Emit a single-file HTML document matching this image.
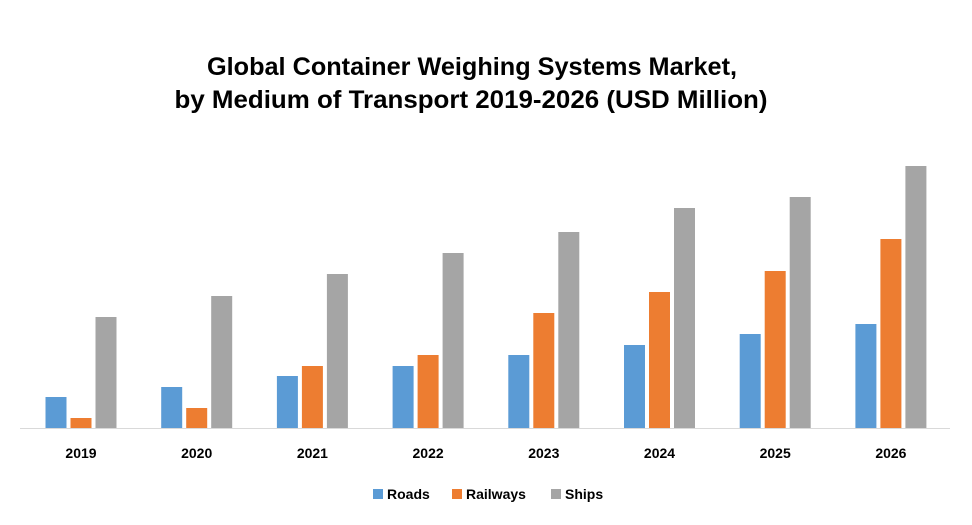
<!DOCTYPE html>
<html><head><meta charset="utf-8"><style>
body{margin:0;background:#fff;}
svg{display:block;font-family:"Liberation Sans",Arial,sans-serif;}
</style></head><body>
<svg id="chart" width="972" height="525" viewBox="0 0 972 525">
<text x="472" y="75" text-anchor="middle" font-size="25" font-weight="bold" fill="#000" textLength="530" lengthAdjust="spacingAndGlyphs">Global Container Weighing Systems Market,</text>
<text x="471" y="108" text-anchor="middle" font-size="25" font-weight="bold" fill="#000" textLength="593" lengthAdjust="spacingAndGlyphs">by Medium of Transport 2019-2026 (USD Million)</text>
<line x1="20" y1="428.5" x2="950" y2="428.5" stroke="#d9d9d9" stroke-width="1"/>
<g id="bars"></g>
<g id="xlabels"></g>
<g>
<g><rect x="373" y="489" width="10" height="10" fill="#5b9bd5"/><text x="387" y="499" font-size="14" font-weight="bold">Roads</text></g>
<g><rect x="452" y="489" width="10" height="10" fill="#ed7d31"/><text x="466" y="499" font-size="14" font-weight="bold">Railways</text></g>
<g><rect x="551" y="489" width="10" height="10" fill="#a5a5a5"/><text x="565" y="499" font-size="14" font-weight="bold">Ships</text></g>
</g>
</svg>
<script>
const categories=["2019","2020","2021","2022","2023","2024","2025","2026"];
const roads=[31,41,52,62,73,83,94,104];
const railways=[10,20,62,73,115,136,157,189];
const ships=[111,132,154,175,196,220,231,262];
const seriesNames=["roads","railways","ships"];
const colors=["#5b9bd5","#ed7d31","#a5a5a5"];
const ns="http://www.w3.org/2000/svg";
const baseY=428, x0=81, step=115.7, bw=21, gap=4;
function xCenter(i){return x0+i*step;}
function yScale(v){return baseY-v;}
const bars=document.getElementById('bars'), xl=document.getElementById('xlabels');
const data=[roads,railways,ships];
categories.forEach((c,i)=>{
  data.forEach((s,k)=>{
    const r=document.createElementNS(ns,'rect');
    const x=xCenter(i)+(k-1)*(bw+gap)-bw/2;
    r.setAttribute('x',x);r.setAttribute('y',yScale(s[i]));
    r.setAttribute('width',bw);r.setAttribute('height',baseY-yScale(s[i]));
    r.setAttribute('fill',colors[k]);
    
    
    bars.appendChild(r);
  });
  const t=document.createElementNS(ns,'text');
  t.setAttribute('x',xCenter(i));t.setAttribute('y',458);
  t.setAttribute('text-anchor','middle');t.setAttribute('font-size','14');t.setAttribute('font-weight','bold');
  t.textContent=c;
  
  
  xl.appendChild(t);
});
</script>
</body></html>
